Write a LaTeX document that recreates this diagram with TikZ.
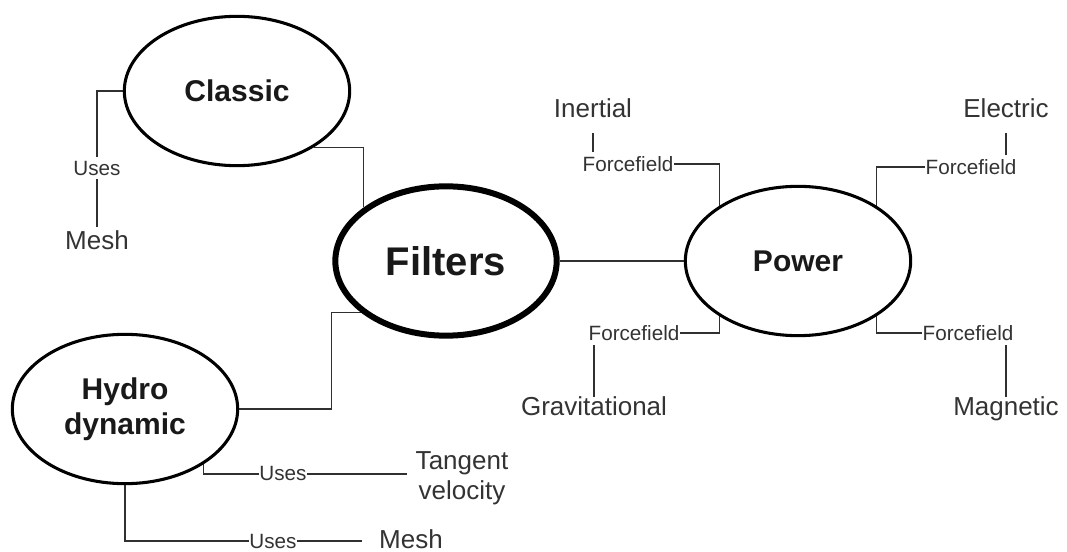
\documentclass[tikz,border=0pt]{standalone}
\usepackage{fontspec}
\setmainfont{Liberation Sans}
\usetikzlibrary{shapes.geometric,backgrounds}
\definecolor{txt}{HTML}{333333}
\definecolor{ln}{HTML}{303030}
\begin{document}
\begin{tikzpicture}[x=0.75pt,y=-0.75pt,
  bub/.style={ellipse,draw=black,line width=2.3pt,fill=white,inner sep=0pt,
    minimum width=169pt,minimum height=112pt,
    font=\fontsize{22.5}{26}\selectfont\bfseries,text=black!90,align=center},
  leaf/.style={inner sep=0pt,font=\fontsize{19.5}{22.5}\selectfont,text=txt,
    text height=0.72em,text depth=0.2em},
  leaftwo/.style={inner sep=0pt,font=\fontsize{19.5}{22.5}\selectfont,text=txt,align=center},
  lab/.style={fill=white,inner xsep=0.3pt,inner ysep=3pt,font=\fontsize{15.5}{18}\selectfont,text=txt},
  conn/.style={draw=ln,line width=0.9pt}]
\useasboundingbox (0,0) rectangle (1067,552);
% main bubbles
\node[bub] (classic) at (237,91) {Classic};
\node[bub,line width=4.5pt,minimum width=166pt,font=\fontsize{30}{34}\selectfont\bfseries] (filters) at (446,261) {Filters};
\node[bub] (power) at (798,261) {Power};
\node[bub] (hydro) at (125,409) {Hydro\\dynamic};
% leaves
\node[leaf] (mesh1) at (97,246) {Mesh};
\node[leaftwo] (tangent) at (462,478) {Tangent\\velocity};
\node[leaf] (mesh2) at (411,545) {Mesh};
\node[leaf] (inertial) at (593,114) {Inertial};
\node[leaf] (electric) at (1006,114) {Electric};
\node[leaf] (grav) at (594,412) {Gravitational};
\node[leaf] (magnetic) at (1006,412) {Magnetic};
% edge labels
\node[lab] (uses1) at (97,168) {Uses};
\node[lab] (uses2) at (283,473) {Uses};
\node[lab] (uses3) at (273,541) {Uses};
\node[lab] (ff1) at (628,164) {Forcefield};
\node[lab] (ff2) at (971,167) {Forcefield};
\node[lab] (ff3) at (634,333) {Forcefield};
\node[lab] (ff4) at (968,333) {Forcefield};
% connectors
\begin{scope}[on background layer]
\draw[conn,shorten >=9.5pt] (classic.west) -| (mesh1.north);
\draw[conn] (classic.-36) -| (filters.147);
\draw[conn] (hydro.east) -- ++(92,0) |- (filters.211);
\draw[conn,shorten >=6pt] (hydro.-35) |- ([yshift=3pt]tangent.west);
\draw[conn,shorten >=12.5pt] (hydro.south) |- ([yshift=3pt]mesh2.west);
\draw[conn] (filters.east) -- (filters.east -| power.west);
\draw[conn,shorten >=9.4pt] (power.145) |- (ff1.center) -| (inertial.south);
\draw[conn,shorten >=9.4pt] (power.35) |- (ff2.center) -| (electric.south);
\draw[conn,shorten >=6.5pt] (power.215) |- (ff3.center) -| (grav.north);
\draw[conn,shorten >=6.5pt] (power.-35) |- (ff4.center) -| (magnetic.north);
\end{scope}
\end{tikzpicture}
\end{document}
